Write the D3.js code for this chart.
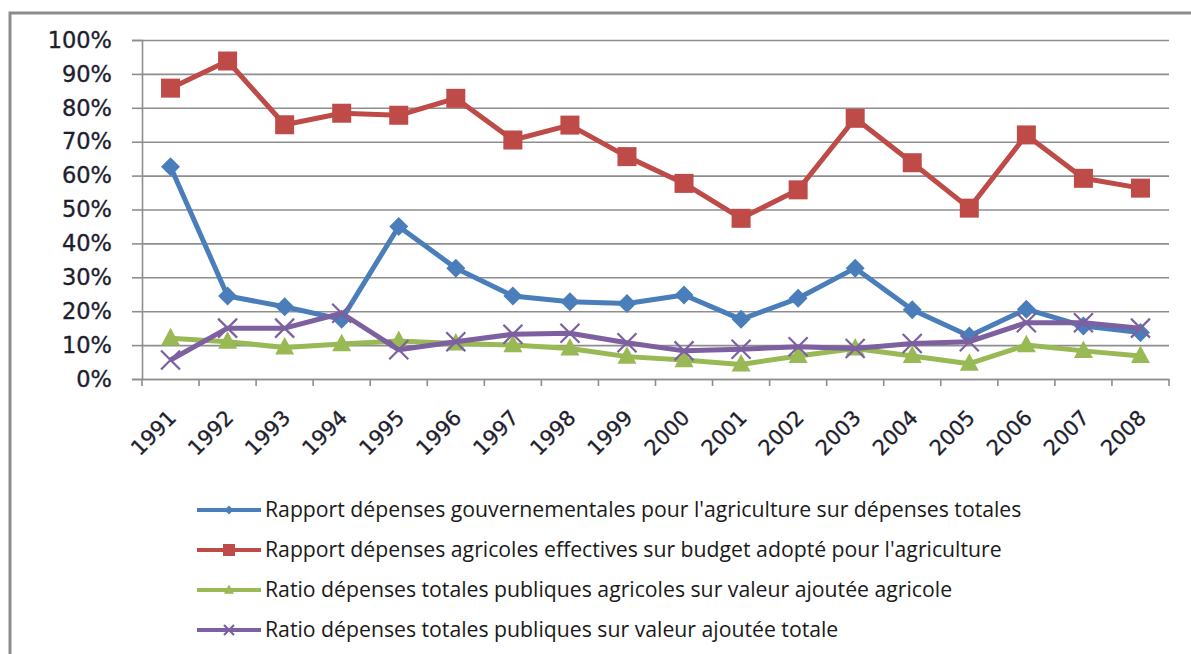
<!DOCTYPE html>
<html><head><meta charset="utf-8">
<script src="https://cdn.jsdelivr.net/npm/d3@7"></script>
<style>html,body{margin:0;padding:0;background:#fff;}svg{display:block;}</style>
</head><body>
<svg id="c" width="1191" height="654"></svg>
<script>
const years = ["1991","1992","1993","1994","1995","1996","1997","1998","1999","2000","2001","2002","2003","2004","2005","2006","2007","2008"];
const yTicks = [0,0.1,0.2,0.3,0.4,0.5,0.6,0.7,0.8,0.9,1.0];
const seriesNames = [
  "Rapport dépenses gouvernementales pour l'agriculture sur dépenses totales",
  "Rapport dépenses agricoles effectives sur budget adopté pour l'agriculture",
  "Ratio dépenses totales publiques agricoles sur valeur ajoutée agricole",
  "Ratio dépenses totales publiques sur valeur ajoutée totale"
];
const govShare   = [0.626,0.245,0.213,0.176,0.450,0.327,0.245,0.228,0.223,0.248,0.176,0.238,0.327,0.204,0.127,0.206,0.156,0.137];
const execBudget = [0.858,0.938,0.750,0.784,0.778,0.828,0.705,0.749,0.656,0.577,0.474,0.558,0.769,0.638,0.504,0.720,0.592,0.563];
const agriVA     = [0.120,0.110,0.093,0.103,0.112,0.105,0.100,0.090,0.066,0.056,0.043,0.068,0.090,0.068,0.045,0.100,0.083,0.068];
const totalVA    = [0.056,0.150,0.150,0.194,0.086,0.110,0.132,0.135,0.107,0.083,0.088,0.095,0.090,0.105,0.110,0.166,0.166,0.150];
const colors = ["#4A7EBB","#BE4B48","#98B954","#7D60A0"];
const markers = ["diamond","square","triangle","x"];
const seriesData = [govShare, execBudget, agriVA, totalVA];

const svg = d3.select("#c");
const L = 142, R = 1169, T = 40, B = 379;
const x = d3.scaleBand().domain(years).range([L, R]);
const y = d3.scaleLinear().domain([0, 1]).range([B, T]);

// outer frame
svg.append("path").attr("d", "M10,654 L10,13 L1191,13").attr("fill","none").attr("stroke","#8c8c8c").attr("stroke-width",3);

// gridlines
svg.append("g").attr("transform",`translate(${L},0)`)
  .call(d3.axisLeft(y).tickValues(yTicks).tickSize(-(R-L)).tickFormat(""))
  .call(g=>g.select(".domain").remove())
  .call(g=>g.selectAll("line").attr("stroke","#8e8e8e").attr("stroke-width",1.6));

// y axis
svg.append("g").attr("transform",`translate(${L},0)`)
  .call(d3.axisLeft(y).tickValues(yTicks).tickSize(10).tickPadding(20).tickFormat(d3.format(".0%")))
  .call(g=>g.select(".domain").attr("stroke","#8e8e8e").attr("stroke-width",1.6))
  .call(g=>g.selectAll("line").attr("stroke","#8e8e8e").attr("stroke-width",1.6))
  .call(g=>g.selectAll("text").attr("font-family","DejaVu Sans").attr("font-size",22.5)
    .attr("fill","#1e1e2e").attr("stroke","#1e1e2e").attr("stroke-width",0.35));

// x axis baseline + boundary ticks
const xg = svg.append("g").attr("transform",`translate(0,${B})`);
xg.call(d3.axisBottom(x).tickSize(0).tickFormat(""))
  .call(g=>g.select(".domain").attr("stroke","#8e8e8e").attr("stroke-width",1.6));
const bounds = years.map(d=>x(d)).concat([x(years[years.length-1]) + x.bandwidth()]);
xg.selectAll("line.bt").data(bounds).enter().append("line").attr("class","bt")
  .attr("x1",d=>d).attr("x2",d=>d).attr("y1",0).attr("y2",7)
  .attr("stroke","#8e8e8e").attr("stroke-width",1.6);
xg.selectAll("text.yl").data(years).enter().append("text").attr("class","yl")
  .attr("transform",d=>`translate(${x(d)+x.bandwidth()/2+7},${40}) rotate(-45)`)
  .attr("text-anchor","end")
  .attr("font-family","DejaVu Sans").attr("font-size",21).attr("fill","#1e1e2e")
  .attr("stroke","#1e1e2e").attr("stroke-width",0.3)
  .text(d=>d);

// series
const cx = d => x(d) + x.bandwidth()/2;
function drawMarker(g, type, color, s) {
  if (type === "diamond") {
    g.append("path").attr("d", `M0,${-s} L${s},0 L0,${s} L${-s},0Z`).attr("fill", color);
  } else if (type === "square") {
    g.append("rect").attr("x",-s).attr("y",-s).attr("width",2*s).attr("height",2*s).attr("fill",color);
  } else if (type === "triangle") {
    g.append("path").attr("d", `M0,${-s*1.1} L${s},${s*0.75} L${-s},${s*0.75}Z`).attr("fill", color);
  } else {
    g.append("path").attr("d", `M${-s},${-s} L${s},${s} M${-s},${s} L${s},${-s}`).attr("stroke", color).attr("stroke-width",2.2).attr("fill","none");
  }
}
const sizes = [9.5, 9.5, 9.5, 9.5];
seriesData.forEach((vals, i) => {
  const pts = years.map((yr, j) => [cx(yr), y(vals[j])]);
  svg.append("path").attr("d", d3.line()(pts)).attr("fill","none")
    .attr("stroke", colors[i]).attr("stroke-width", 5).attr("stroke-linejoin","round");
  pts.forEach(p => {
    const g = svg.append("g").attr("transform", `translate(${p[0]},${p[1]})`);
    drawMarker(g, markers[i], colors[i], sizes[i]);
  });
});

// legend
const legY = [510, 550, 590, 630];
const lg = svg.append("g");
seriesNames.forEach((name, i) => {
  lg.append("line").attr("x1",197).attr("x2",261).attr("y1",legY[i]).attr("y2",legY[i])
    .attr("stroke",colors[i]).attr("stroke-width",4);
  const g = lg.append("g").attr("transform",`translate(229,${legY[i]})`);
  drawMarker(g, markers[i], colors[i], [4.5,6,5,5][i]);
  lg.append("text").attr("class","lt").attr("x",265).attr("y",legY[i]).attr("dy","0.35em")
    .attr("font-family","Open Sans").attr("font-size",17).attr("fill","#1a1a1a").text(name);
});
// fit legend font size so that first entry spans the measured width
const first = lg.select("text.lt").node();
const w = first.getComputedTextLength();
const fs = 17 * 757 / w;
lg.selectAll("text.lt").attr("font-size", fs);
</script>
</body></html>
